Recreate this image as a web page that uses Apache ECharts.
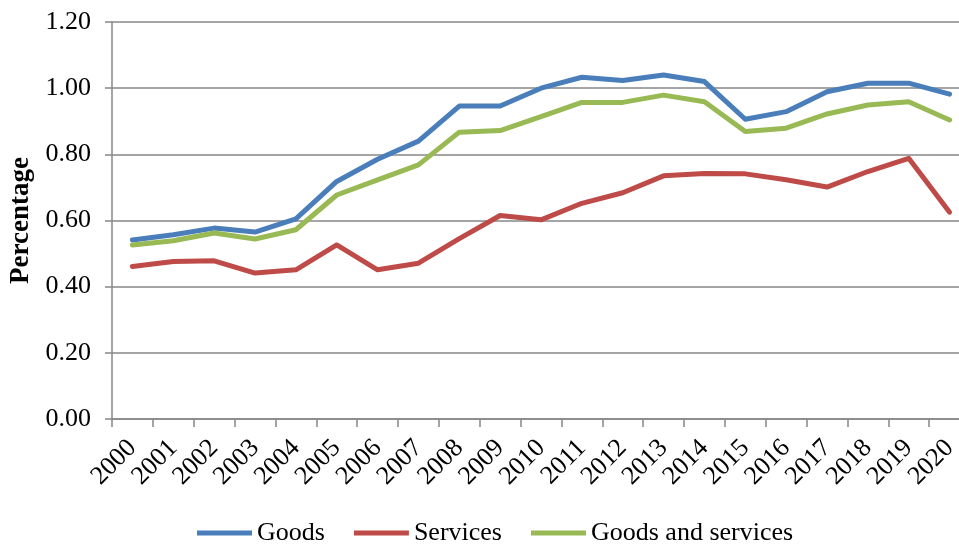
<!DOCTYPE html>
<html>
<head>
<meta charset="utf-8">
<script src="https://cdn.jsdelivr.net/npm/echarts@6/dist/echarts.min.js"></script>
<style>
html,body{margin:0;padding:0;background:#fff;}
#chart{width:959px;height:544px;}
</style>
</head>
<body>
<div id="chart"></div>
<script>
var years = ['2000','2001','2002','2003','2004','2005','2006','2007','2008','2009','2010','2011','2012','2013','2014','2015','2016','2017','2018','2019','2020'];
var goods = [0.541,0.557,0.577,0.565,0.605,0.718,0.785,0.840,0.946,0.946,1.000,1.033,1.023,1.040,1.020,0.906,0.929,0.989,1.015,1.015,0.982];
var services = [0.461,0.476,0.478,0.441,0.451,0.526,0.451,0.471,0.545,0.615,0.602,0.652,0.684,0.735,0.742,0.741,0.723,0.701,0.748,0.788,0.625];
var goodsAndServices = [0.526,0.539,0.562,0.544,0.572,0.677,0.723,0.768,0.867,0.872,0.914,0.957,0.957,0.979,0.959,0.869,0.879,0.922,0.949,0.959,0.904];
var yTicks = {min:0, max:1.2, interval:0.2};

var font = 'Liberation Serif';
var gray = '#878787';
function mk(name, data, color){
  return {name:name, type:'line', data:data, symbol:'none', smooth:false,
    lineStyle:{color:color, width:5, cap:'round', join:'round'}, itemStyle:{color:color}, animation:false};
}
var chart = echarts.init(document.getElementById('chart'));
chart.setOption({
  animation:false,
  grid:{left:112, width:858, top:22, height:397, containLabel:false, outerBoundsMode:'none'},
  legend:{left:197, top:520, padding:0, itemWidth:55, itemHeight:5, itemGap:29, icon:'rect',
    textStyle:{fontFamily:font, fontSize:26, color:'#000'},
    data:['Goods','Services','Goods and services']},
  xAxis:{type:'category', data:years, boundaryGap:true,
    axisLine:{lineStyle:{color:gray, width:1.5}},
    axisTick:{show:true, length:8, alignWithLabel:false, lineStyle:{color:gray, width:1.5}},
    axisLabel:{rotate:45, margin:25, interval:0, fontFamily:font, fontSize:26, color:'#000'}},
  yAxis:{type:'value', min:yTicks.min, max:yTicks.max, interval:yTicks.interval,
    name:'Percentage', nameLocation:'middle', nameGap:77,
    nameTextStyle:{fontFamily:font, fontSize:27, fontWeight:'bold', color:'#000'},
    axisLine:{show:true, lineStyle:{color:gray, width:1.5}},
    axisTick:{show:true, length:7, lineStyle:{color:gray, width:1.5}},
    splitLine:{show:true, lineStyle:{color:gray, width:1.5}},
    axisLabel:{margin:21, fontFamily:font, fontSize:26, color:'#000',
      formatter:function(v){return v.toFixed(2);}}},
  series:[mk('Goods', goods, '#4A7EBB'), mk('Services', services, '#BE4B48'), mk('Goods and services', goodsAndServices, '#98B954')]
});
</script>
</body>
</html>
